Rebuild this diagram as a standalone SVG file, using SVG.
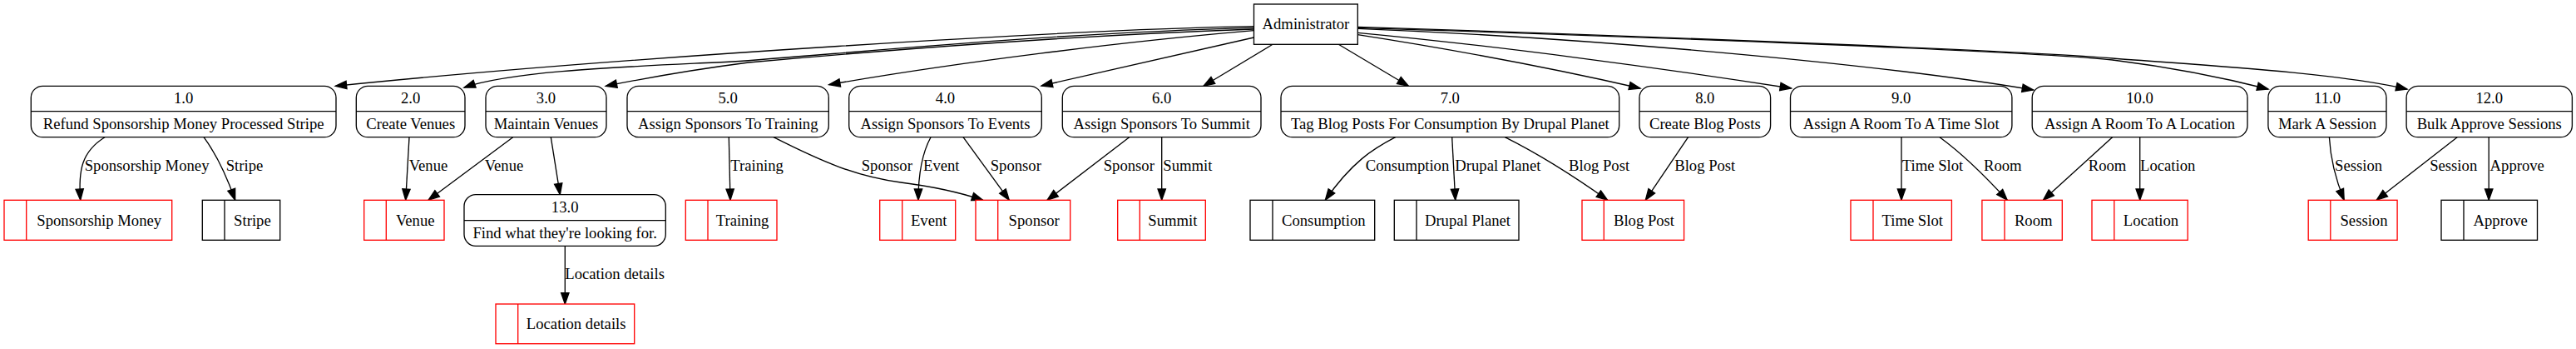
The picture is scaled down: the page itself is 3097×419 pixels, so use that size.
<svg xmlns="http://www.w3.org/2000/svg" width="3097" height="419" viewBox="0 0 3097 419">
<style>
text{font-family:"Liberation Serif","Times New Roman",serif;font-size:18.67px;fill:#000}
.c{text-anchor:middle}
.p{fill:#fff;stroke:#000;stroke-width:1.33}
.d{stroke:#000;stroke-width:1.33;fill:none}
.sr{fill:#fff;stroke:#f00;stroke-width:1.33}
.srl{stroke:#f00;stroke-width:1.33}
.sb{fill:#fff;stroke:#000;stroke-width:1.33}
.sbl{stroke:#000;stroke-width:1.33}
.e{fill:none;stroke:#000;stroke-width:1.33;marker-end:url(#ah)}
</style>
<defs>
<marker id="ah" markerUnits="userSpaceOnUse" viewBox="0 -6 15 12" refX="13.3" refY="0" markerWidth="15" markerHeight="12" orient="auto" overflow="visible">
<path d="M0,-4.67 L13.3,0 L0,4.67 z" fill="#000" stroke="#000" stroke-width="1.33"/>
</marker>
</defs>
<rect width="3097" height="419" fill="#fff"/>

<g id="connectors">
<path class="e" d="M1507.5,31.7 C1300,35 750,68 403.3,103.3"/>
<path class="e" d="M1507.5,33.3 C1250,40 1000,66 880,74 C760,80 620,84 558,105"/>
<path class="e" d="M1507.5,35 C1250,44 1000,66 900,75 C830,84 770,95 728.3,103.3"/>
<path class="e" d="M1507.5,36.7 C1350,50 1150,75 996.7,101.7"/>
<path class="e" d="M1507.5,45 L1252,103"/>
<path class="e" d="M1530,53.3 L1447,103.3"/>
<path class="e" d="M1609.3,53.3 L1693.3,103.3"/>
<path class="e" d="M1632.3,41.7 C1750,60 1880,85 1972,106"/>
<path class="e" d="M1632.3,39.3 C1800,55 2000,82 2153.5,106"/>
<path class="e" d="M1632.3,34.3 C1900,45 2250,75 2444.5,108"/>
<path class="e" d="M1632.3,33.3 C2000,45 2450,62 2540,72 C2620,82 2680,95 2727,107"/>
<path class="e" d="M1632.3,32.3 C2000,44 2450,62 2540,70 C2640,78 2800,86 2894,107"/>

<path class="e" d="M126,164.7 C98,182 94,205 96.7,240.3"/>
<path class="e" d="M245,164.7 C260,185 272,210 282.7,240.3"/>
<path class="e" d="M492,164.7 L487.7,240.3"/>
<path class="e" d="M616.7,164.7 L515,240.3"/>
<path class="e" d="M662.3,164.7 L673.3,233.7"/>
<path class="e" d="M679.3,295.3 L679.3,365"/>
<path class="e" d="M876.3,164.7 L878,240.3"/>
<path class="e" d="M930,164.7 C990,195 1030,212 1083,219 C1130,225 1160,233 1181.7,240.3"/>
<path class="e" d="M1119,164.7 C1108,185 1104,210 1104,240.3"/>
<path class="e" d="M1158,164.7 L1213.3,240.3"/>
<path class="e" d="M1357.7,164.7 L1259,240.3"/>
<path class="e" d="M1396.7,164.7 L1396.7,240.3"/>
<path class="e" d="M1677.7,164.7 C1650,179 1625,195 1593.3,240.3"/>
<path class="e" d="M1745.7,164.7 L1749.7,240.3"/>
<path class="e" d="M1809.3,164.7 C1850,185 1890,210 1932.7,240.3"/>
<path class="e" d="M2029.6,164.7 L1978.3,240.3"/>
<path class="e" d="M2286,164.7 L2286,240.3"/>
<path class="e" d="M2332,164.7 C2360,185 2390,215 2413.2,240.3"/>
<path class="e" d="M2539.6,164.7 L2456.4,240.3"/>
<path class="e" d="M2572.7,164.7 L2572.7,240.3"/>
<path class="e" d="M2800.4,164.7 C2802,195 2810,220 2818.2,240.3"/>
<path class="e" d="M2954.2,164.7 L2857.2,240.3"/>
<path class="e" d="M2992.2,164.7 L2992.2,240.3"/>

<text x="101.7" y="204.5">Sponsorship Money</text>
<text x="271.7" y="204.5">Stripe</text>
<text x="491.7" y="204.5">Venue</text>
<text x="582.7" y="204.5">Venue</text>
<text x="679.3" y="334.5">Location details</text>
<text x="878.3" y="204.5">Training</text>
<text x="1035.7" y="204.5">Sponsor</text>
<text x="1110" y="204.5">Event</text>
<text x="1190.7" y="204.5">Sponsor</text>
<text x="1326.7" y="204.5">Sponsor</text>
<text x="1398.3" y="204.5">Summit</text>
<text x="1641.7" y="204.5">Consumption</text>
<text x="1749.3" y="204.5">Drupal Planet</text>
<text x="1886" y="204.5">Blog Post</text>
<text x="2013.2" y="204.5">Blog Post</text>
<text x="2286.8" y="204.5">Time Slot</text>
<text x="2385" y="204.5">Room</text>
<text x="2510.7" y="204.5">Room</text>
<text x="2573" y="204.5">Location</text>
<text x="2807.1" y="204.5">Session</text>
<text x="2921.2" y="204.5">Session</text>
<text x="2993.6" y="204.5">Approve</text>
</g>

<g id="admin">
<rect class="p" x="1507.5" y="5" width="124.8" height="48.3"/>
<text class="c" x="1569.9" y="34.7">Administrator</text>
</g>

<g id="p1">
<rect class="p" x="37.3" y="103.3" width="366.7" height="61.4" rx="14"/>
<line class="d" x1="37.3" y1="133.7" x2="404" y2="133.7"/>
<text class="c" x="220.7" y="124">1.0</text>
<text class="c" x="220.7" y="155">Refund Sponsorship Money Processed Stripe</text>
</g>
<g id="p2">
<rect class="p" x="428.3" y="103.3" width="130.7" height="61.4" rx="14"/>
<line class="d" x1="428.3" y1="133.7" x2="559" y2="133.7"/>
<text class="c" x="493.7" y="124">2.0</text>
<text class="c" x="493.7" y="155">Create Venues</text>
</g>
<g id="p3">
<rect class="p" x="584" y="103.3" width="145" height="61.4" rx="14"/>
<line class="d" x1="584" y1="133.7" x2="729" y2="133.7"/>
<text class="c" x="656.5" y="124">3.0</text>
<text class="c" x="656.5" y="155">Maintain Venues</text>
</g>
<g id="p5">
<rect class="p" x="754" y="103.3" width="242.3" height="61.4" rx="14"/>
<line class="d" x1="754" y1="133.7" x2="996.3" y2="133.7"/>
<text class="c" x="875.2" y="124">5.0</text>
<text class="c" x="875.2" y="155">Assign Sponsors To Training</text>
</g>
<g id="p4">
<rect class="p" x="1020.7" y="103.3" width="231.6" height="61.4" rx="14"/>
<line class="d" x1="1020.7" y1="133.7" x2="1252.3" y2="133.7"/>
<text class="c" x="1136.5" y="124">4.0</text>
<text class="c" x="1136.5" y="155">Assign Sponsors To Events</text>
</g>
<g id="p6">
<rect class="p" x="1277.3" y="103.3" width="238.7" height="61.4" rx="14"/>
<line class="d" x1="1277.3" y1="133.7" x2="1516" y2="133.7"/>
<text class="c" x="1396.7" y="124">6.0</text>
<text class="c" x="1396.7" y="155">Assign Sponsors To Summit</text>
</g>
<g id="p7">
<rect class="p" x="1540" y="103.3" width="406.7" height="61.4" rx="14"/>
<line class="d" x1="1540" y1="133.7" x2="1946.7" y2="133.7"/>
<text class="c" x="1743.3" y="124">7.0</text>
<text class="c" x="1743.3" y="155">Tag Blog Posts For Consumption By Drupal Planet</text>
</g>
<g id="p8">
<rect class="p" x="1971" y="103.3" width="157.6" height="61.4" rx="14"/>
<line class="d" x1="1971" y1="133.7" x2="2128.6" y2="133.7"/>
<text class="c" x="2049.8" y="124">8.0</text>
<text class="c" x="2049.8" y="155">Create Blog Posts</text>
</g>
<g id="p9">
<rect class="p" x="2152.5" y="103.3" width="266.4" height="61.4" rx="14"/>
<line class="d" x1="2152.5" y1="133.7" x2="2418.9" y2="133.7"/>
<text class="c" x="2285.7" y="124">9.0</text>
<text class="c" x="2285.7" y="155">Assign A Room To A Time Slot</text>
</g>
<g id="p10">
<rect class="p" x="2443.2" y="103.3" width="258.8" height="61.4" rx="14"/>
<line class="d" x1="2443.2" y1="133.7" x2="2702" y2="133.7"/>
<text class="c" x="2572.6" y="124">10.0</text>
<text class="c" x="2572.6" y="155">Assign A Room To A Location</text>
</g>
<g id="p11">
<rect class="p" x="2726.9" y="103.3" width="142.1" height="61.4" rx="14"/>
<line class="d" x1="2726.9" y1="133.7" x2="2869" y2="133.7"/>
<text class="c" x="2798" y="124">11.0</text>
<text class="c" x="2798" y="155">Mark A Session</text>
</g>
<g id="p12">
<rect class="p" x="2893.1" y="103.3" width="199.3" height="61.4" rx="14"/>
<line class="d" x1="2893.1" y1="133.7" x2="3092.4" y2="133.7"/>
<text class="c" x="2992.75" y="124">12.0</text>
<text class="c" x="2992.75" y="155">Bulk Approve Sessions</text>
</g>
<g id="p13">
<rect class="p" x="558" y="233.7" width="242.3" height="61.6" rx="14"/>
<line class="d" x1="558" y1="264.7" x2="800.3" y2="264.7"/>
<text class="c" x="679.2" y="254.5">13.0</text>
<text class="c" x="679.2" y="285.5">Find what they're looking for.</text>
</g>

<g id="s-sponsorship-money">
<rect class="sr" x="5" y="240.3" width="201.7" height="48"/>
<line class="srl" x1="31.7" y1="240.3" x2="31.7" y2="288.3"/>
<text class="c" x="119.2" y="270.5">Sponsorship Money</text>
</g>
<g id="s-stripe">
<rect class="sb" x="243.3" y="240.3" width="93.4" height="48"/>
<line class="sbl" x1="270" y1="240.3" x2="270" y2="288.3"/>
<text class="c" x="303.4" y="270.5">Stripe</text>
</g>
<g id="s-venue">
<rect class="sr" x="437.7" y="240.3" width="96.3" height="48"/>
<line class="srl" x1="464.3" y1="240.3" x2="464.3" y2="288.3"/>
<text class="c" x="499.2" y="270.5">Venue</text>
</g>
<g id="s-location-details">
<rect class="sr" x="596" y="365" width="166.7" height="47.7"/>
<line class="srl" x1="622.7" y1="365" x2="622.7" y2="412.7"/>
<text class="c" x="692.7" y="395">Location details</text>
</g>
<g id="s-training">
<rect class="sr" x="824.3" y="240.3" width="109.7" height="48"/>
<line class="srl" x1="851" y1="240.3" x2="851" y2="288.3"/>
<text class="c" x="892.5" y="270.5">Training</text>
</g>
<g id="s-event">
<rect class="sr" x="1057.7" y="240.3" width="91" height="48"/>
<line class="srl" x1="1084.7" y1="240.3" x2="1084.7" y2="288.3"/>
<text class="c" x="1116.7" y="270.5">Event</text>
</g>
<g id="s-sponsor">
<rect class="sr" x="1173" y="240.3" width="113.7" height="48"/>
<line class="srl" x1="1199.7" y1="240.3" x2="1199.7" y2="288.3"/>
<text class="c" x="1243.2" y="270.5">Sponsor</text>
</g>
<g id="s-summit">
<rect class="sr" x="1343.7" y="240.3" width="105.6" height="48"/>
<line class="srl" x1="1370.3" y1="240.3" x2="1370.3" y2="288.3"/>
<text class="c" x="1409.8" y="270.5">Summit</text>
</g>
<g id="s-consumption">
<rect class="sb" x="1503" y="240.3" width="149.7" height="48"/>
<line class="sbl" x1="1530" y1="240.3" x2="1530" y2="288.3"/>
<text class="c" x="1591.3" y="270.5">Consumption</text>
</g>
<g id="s-drupal-planet">
<rect class="sb" x="1676.3" y="240.3" width="149.7" height="48"/>
<line class="sbl" x1="1703" y1="240.3" x2="1703" y2="288.3"/>
<text class="c" x="1764.5" y="270.5">Drupal Planet</text>
</g>
<g id="s-blog-post">
<rect class="sr" x="1902" y="240.3" width="122.6" height="48"/>
<line class="srl" x1="1928.3" y1="240.3" x2="1928.3" y2="288.3"/>
<text class="c" x="1976.5" y="270.5">Blog Post</text>
</g>
<g id="s-time-slot">
<rect class="sr" x="2225" y="240.3" width="121.4" height="48"/>
<line class="srl" x1="2252" y1="240.3" x2="2252" y2="288.3"/>
<text class="c" x="2299.2" y="270.5">Time Slot</text>
</g>
<g id="s-room">
<rect class="sr" x="2382.9" y="240.3" width="96.4" height="48"/>
<line class="srl" x1="2410" y1="240.3" x2="2410" y2="288.3"/>
<text class="c" x="2444.7" y="270.5">Room</text>
</g>
<g id="s-location">
<rect class="sr" x="2515" y="240.3" width="115.2" height="48"/>
<line class="srl" x1="2541.8" y1="240.3" x2="2541.8" y2="288.3"/>
<text class="c" x="2586" y="270.5">Location</text>
</g>
<g id="s-session">
<rect class="sr" x="2775.2" y="240.3" width="106.9" height="48"/>
<line class="srl" x1="2801.8" y1="240.3" x2="2801.8" y2="288.3"/>
<text class="c" x="2842" y="270.5">Session</text>
</g>
<g id="s-approve">
<rect class="sb" x="2935" y="240.3" width="115.5" height="48"/>
<line class="sbl" x1="2962" y1="240.3" x2="2962" y2="288.3"/>
<text class="c" x="3006.2" y="270.5">Approve</text>
</g>
</svg>
